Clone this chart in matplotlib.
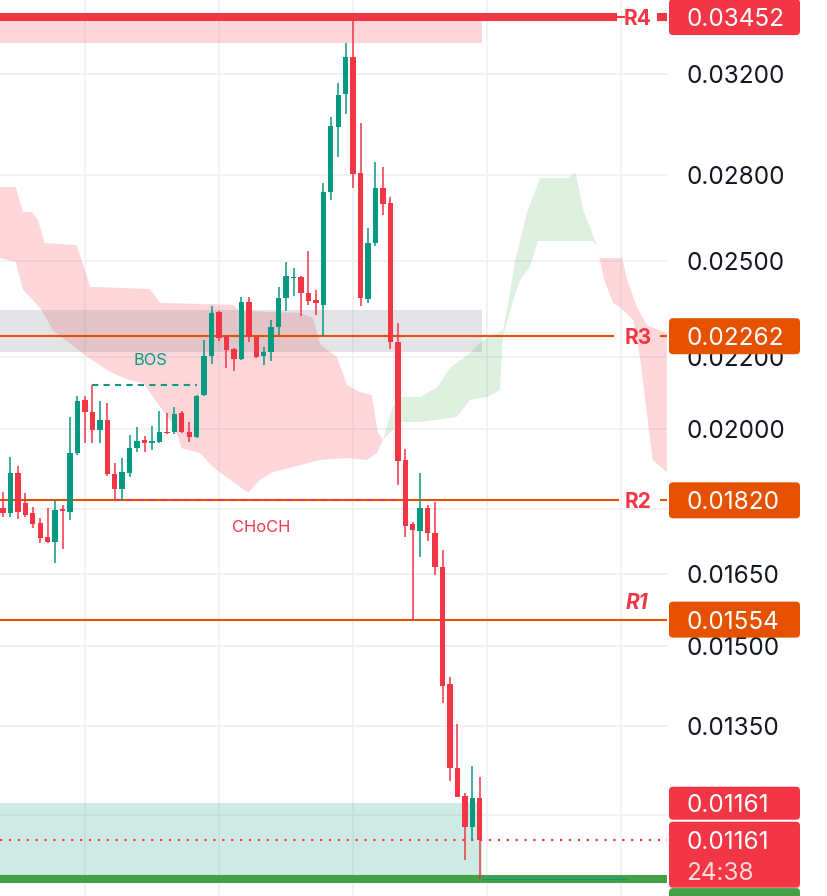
import numpy as np
import matplotlib
matplotlib.use('Agg')
import matplotlib.pyplot as plt
from matplotlib.patches import FancyBboxPatch
from matplotlib.transforms import IdentityTransform
from matplotlib.ticker import NullLocator, NullFormatter

plt.rcParams['font.family'] = ['Inter', 'DejaVu Sans']

# candles, oldest -> newest
opens = [0.01802, 0.01790, 0.01887, 0.01814, 0.01790, 0.01766, 0.01734, 0.01722, 0.01799, 0.01792,
         0.01938, 0.02079, 0.02046, 0.01998, 0.02024, 0.01884, 0.01847, 0.01887, 0.01950, 0.01971,
         0.01963, 0.01966, 0.01993, 0.01993, 0.02043, 0.01993, 0.01979, 0.02092, 0.02203, 0.02336,
         0.02262, 0.02224, 0.02195, 0.02367, 0.02259, 0.02203, 0.02215, 0.02289, 0.02379, 0.02443,
         0.02447, 0.02395, 0.02373, 0.02357, 0.02738, 0.02984, 0.03118, 0.03274, 0.02808, 0.02376,
         0.02559, 0.02752, 0.02698, 0.02244, 0.01920, 0.01764, 0.01748, 0.01802, 0.01743, 0.01666,
         0.01427, 0.01277, 0.01230, 0.01181, 0.01227]
highs = [0.01840, 0.01927, 0.01904, 0.01838, 0.01804, 0.01778, 0.01802, 0.01821, 0.01809, 0.02032,
         0.02090, 0.02090, 0.02120, 0.02076, 0.02070, 0.01912, 0.01925, 0.01985, 0.02006, 0.01982,
         0.02008, 0.02048, 0.02043, 0.02059, 0.02048, 0.02019, 0.02092, 0.02250, 0.02354, 0.02339,
         0.02264, 0.02226, 0.02383, 0.02383, 0.02261, 0.02230, 0.02311, 0.02415, 0.02495, 0.02476,
         0.02450, 0.02532, 0.02405, 0.02771, 0.03024, 0.03163, 0.03335, 0.03452, 0.03000, 0.02610,
         0.02849, 0.02830, 0.02720, 0.02302, 0.01948, 0.01768, 0.01887, 0.01809, 0.01816, 0.01704,
         0.01440, 0.01353, 0.01235, 0.01280, 0.01262]
lows = [0.01780, 0.01780, 0.01775, 0.01780, 0.01755, 0.01720, 0.01720, 0.01675, 0.01706, 0.01773,
        0.01933, 0.01963, 0.01963, 0.01963, 0.01880, 0.01820, 0.01820, 0.01877, 0.01940, 0.01940,
        0.01945, 0.01963, 0.01988, 0.01987, 0.01990, 0.01966, 0.01977, 0.02090, 0.02180, 0.02247,
        0.02169, 0.02160, 0.02192, 0.02244, 0.02198, 0.02177, 0.02189, 0.02265, 0.02339, 0.02386,
        0.02323, 0.02357, 0.02326, 0.02262, 0.02709, 0.02867, 0.03036, 0.02752, 0.02354, 0.02364,
        0.02549, 0.02656, 0.02224, 0.01857, 0.01734, 0.01554, 0.01689, 0.01725, 0.01648, 0.01391,
        0.01255, 0.01229, 0.01130, 0.01161, 0.01102]
closes = [0.01790, 0.01887, 0.01792, 0.01785, 0.01764, 0.01732, 0.01722, 0.01797, 0.01795, 0.01938,
          0.02076, 0.02046, 0.01998, 0.02024, 0.01884, 0.01847, 0.01889, 0.01950, 0.01968, 0.01963,
          0.01968, 0.01993, 0.01990, 0.02040, 0.01993, 0.01979, 0.02090, 0.02203, 0.02333, 0.02256,
          0.02221, 0.02195, 0.02367, 0.02259, 0.02201, 0.02215, 0.02289, 0.02379, 0.02450, 0.02447,
          0.02395, 0.02370, 0.02364, 0.02738, 0.02988, 0.03113, 0.03274, 0.02804, 0.02379, 0.02559,
          0.02752, 0.02695, 0.02244, 0.01917, 0.01759, 0.01750, 0.01802, 0.01743, 0.01666, 0.01423,
          0.01277, 0.01229, 0.01181, 0.01227, 0.01161]

# ichimoku cloud outline (bar position, price)
span_a_x = [-0.4, 1.7, 2.7, 5.0, 6.7, 11.3, 14.4, 17.0, 18.8, 21.1, 22.8, 24.0, 26.4, 28.2, 30.5, 32.9,
            34.5, 36.2, 38.9, 42.6, 46.2, 48.9, 50.2, 51.0, 52.3, 53.3, 56.0, 58.3, 60.0, 62.7, 64.4,
            67.1, 67.8, 68.7, 70.3, 72.1, 75.7, 76.9, 77.9, 79.1, 79.7, 80.7, 81.9, 82.8, 84.6, 85.5,
            87.2, 89.1]
span_a = [0.02509, 0.02496, 0.02405, 0.02348, 0.02280, 0.02201, 0.02157, 0.02134, 0.02126, 0.02059,
          0.02016, 0.01950, 0.01938, 0.01902, 0.01870, 0.01838, 0.01870, 0.01889, 0.01902, 0.01920,
          0.01925, 0.01920, 0.01938, 0.01971, 0.02059, 0.02087, 0.02087, 0.02114, 0.02169, 0.02212,
          0.02250, 0.02280, 0.02358, 0.02496, 0.02662, 0.02789, 0.02789, 0.02808, 0.02673, 0.02593,
          0.02552, 0.02437, 0.02364, 0.02351, 0.02311, 0.02201, 0.01920, 0.01889]
span_b_x = [-0.4, 1.7, 2.7, 3.9, 4.7, 5.6, 9.9, 11.7, 19.7, 21.1, 30.9, 31.8, 39.9, 41.6, 42.6, 44.8,
            46.2, 47.9, 49.5, 50.3, 51.0, 53.3, 56.0, 60.9, 62.7, 65.0, 66.7, 67.1, 68.5, 69.4, 70.7,
            71.8, 79.1, 79.7, 80.1, 83.1, 83.8, 85.1, 86.4, 89.1]
span_b = [0.02756, 0.02756, 0.02666, 0.02666, 0.02638, 0.02559, 0.02552, 0.02415, 0.02408, 0.02364,
          0.02358, 0.02339, 0.02333, 0.02317, 0.02236, 0.02201, 0.02120, 0.02101, 0.02092, 0.01993,
          0.01971, 0.02019, 0.02019, 0.02032, 0.02079, 0.02087, 0.02106, 0.02259, 0.02373, 0.02437,
          0.02479, 0.02566, 0.02566, 0.02552, 0.02509, 0.02509, 0.02437, 0.02351, 0.02296, 0.02271]
cloud_cross = [51.0, 79.7]

# levels and zones
level_names = ['R4', 'R3', 'R2', 'R1']
level_prices = [0.03452, 0.02262, 0.01820, 0.01554]
last_price = 0.01161
countdown = '24:38'
support = 0.01102
supply_zone = [0.03334, 0.03452]
mid_zone = [0.02215, 0.02342]
demand_zone = [0.01102, 0.01219]
bos_price, bos_from, bos_to = 0.02120, 12, 26
choch_price, choch_from, choch_to = 0.01820, 15, 54

# price scale; 0.018 and 0.012 sit under the level boxes, so only their grid lines show
yticks = [0.032, 0.028, 0.025, 0.022, 0.020, 0.018, 0.0165, 0.015, 0.0135, 0.012]
hidden_ticks = [0.018, 0.012]

GREEN = '#089981'
RED = '#F23645'
ORANGE = '#E65100'
W, H = 828, 896
AX_W = 667

fig = plt.figure(figsize=(W / 100, H / 100), dpi=100)
ax = fig.add_axes([0, 0, AX_W / W, 1])
ax.set_yscale('log')
ax.set_xlim(-0.4, 89.13)
ax.set_ylim(0.010776, 0.03531)
for s in ax.spines.values():
    s.set_visible(False)
ax.set_axisbelow(True)

ax.set_xticks([11, 29, 47, 65, 83])
ax.set_xticklabels([])
ax.tick_params(axis='x', length=0)
ax.yaxis.tick_right()
ax.set_yticks(yticks)
ax.set_yticklabels(['' if t in hidden_ticks else f'{t:.5f}' for t in yticks])
ax.yaxis.set_minor_locator(NullLocator())
ax.yaxis.set_minor_formatter(NullFormatter())
ax.tick_params(axis='y', length=0, pad=13.7, labelsize=17.5, labelcolor='#131722')
ax.grid(True, color='#EFF0F2', lw=1.2)

# cloud
sax, sa = np.array(span_a_x), np.array(span_a)
sbx, sb = np.array(span_b_x), np.array(span_b)
edges = [-np.inf] + cloud_cross + [np.inf]
cloud_cols = [(RED, 0.2), ('#4CAF50', 0.18), (RED, 0.2)]
for k in range(3):
    lo, hi = edges[k], edges[k + 1]
    ma = (sax >= lo) & (sax <= hi)
    mb = (sbx >= lo) & (sbx <= hi)
    xs = np.concatenate([sax[ma], sbx[mb][::-1]])
    ys = np.concatenate([sa[ma], sb[mb][::-1]])
    ax.fill(xs, ys, color=cloud_cols[k][0], alpha=cloud_cols[k][1], lw=0, zorder=1)

# zones
n = len(opens)
zx = [-0.4, n - 1 + 0.3]
ax.fill_between(zx, *supply_zone, color=RED, alpha=0.2, lw=0, zorder=1.2)
ax.fill_between(zx, *mid_zone, color='#787B86', alpha=0.2, lw=0, zorder=1.2)
ax.fill_between(zx, *demand_zone, color=GREEN, alpha=0.2, lw=0, zorder=1.2)

# level lines
gap_start = [613, 613, 618, None]
line_w = [5.8, 1.5, 1.5, 1.5]
line_c = [RED, ORANGE, ORANGE, ORANGE]
for name, p, g, lw, lc in zip(level_names, level_prices, gap_start, line_w, line_c):
    if g is None:
        ax.axhline(p, color=lc, lw=lw, zorder=2.5)
        ax.annotate(name, xy=(637 / AX_W, p), xycoords=ax.get_yaxis_transform(),
                    xytext=(0, 12), textcoords='offset points', ha='center', va='center',
                    color=RED, fontsize=15, fontweight='bold', fontstyle='italic')
    else:
        ax.axhline(p, xmin=0, xmax=g / AX_W, color=lc, lw=lw, zorder=2.5)
        ax.axhline(p, xmin=661 / AX_W, xmax=1, color=lc, lw=lw, zorder=2.5)
        if name == 'R4':
            ax.axhline(p, xmin=g / AX_W, xmax=624 / AX_W, color=lc, lw=1.5, zorder=2.5)
        ax.text(638 / AX_W, p, name, transform=ax.get_yaxis_transform(), ha='center',
                va='center_baseline', color=RED, fontsize=15, fontweight='bold')

ax.axhline(support, color='#43A047', lw=5.8, zorder=2.4)
ax.hlines(support, n - 1 + 0.3, 83.9, colors=GREEN, lw=0.8, zorder=2.45)
ax.axhline(last_price, color=RED, lw=1.6, ls=(0, (1, 3)), zorder=2.6)

# structure marks
ax.hlines(bos_price, bos_from, bos_to, colors=GREEN, lw=1.5, linestyles=(0, (3, 2.5)), zorder=2.7)
ax.annotate('BOS', xy=((bos_from + bos_to) / 2, bos_price), xytext=(4.5, 18),
            textcoords='offset points', ha='center', va='center', color=GREEN, fontsize=11.8)
ax.hlines(choch_price, choch_from, choch_to, colors=RED, lw=1.5, linestyles=(0, (3, 2.5)), zorder=2.7)
ax.annotate('CHoCH', xy=((choch_from + choch_to) / 2, choch_price), xytext=(1, -19.5),
            textcoords='offset points', ha='center', va='center', color=RED, fontsize=11.8)

# candles
x = np.arange(n)
o, h, l, c = map(np.array, (opens, highs, lows, closes))
col = np.where(c >= o, GREEN, RED)
ax.vlines(x, l, h, colors=col, lw=1.1, zorder=3)
body = np.maximum(np.abs(c - o), np.minimum(o, c) * 0.0016)
ax.bar(x, body, bottom=np.minimum(o, c), width=0.72, color=col, lw=0, zorder=3.1)


# price boxes on the right scale
def ypix(p):
    return ax.transData.transform((0, p))[1]


def box(y0, y1, color):
    fig.add_artist(FancyBboxPatch((669, y0), 131, y1 - y0,
                                  boxstyle='round,pad=0,rounding_size=4',
                                  transform=IdentityTransform(), fc=color, ec='none', zorder=5))


def box_text(y, s, color='white'):
    fig.text(686, y, s, transform=IdentityTransform(), ha='left', va='center_baseline',
             color=color, fontsize=17.5, zorder=6)


for name, p, bc in zip(level_names, level_prices, [RED, ORANGE, ORANGE, ORANGE]):
    yp = ypix(p)
    box(yp - 18, yp + 18, bc)
    box_text(yp, f'{p:.5f}')

yl = ypix(last_price)
box(yl + 20, yl + 53, RED)
box_text(yl + 36.5, f'{last_price:.5f}')
box(yl - 48, yl + 18, RED)
box_text(yl, f'{last_price:.5f}')
box_text(yl - 31, countdown, color='#FFD9DC')
ys = ypix(support)
box(ys - 51, ys - 9, '#43A047')

fig.savefig('out.png', dpi=100)
